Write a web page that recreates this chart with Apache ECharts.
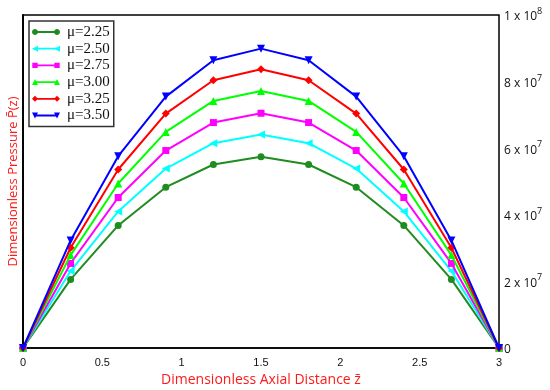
<!DOCTYPE html>
<html><head><meta charset="utf-8">
<script src="https://cdn.jsdelivr.net/npm/echarts@6/dist/echarts.min.js"></script>
<style>html,body{margin:0;padding:0;background:#fff}#c{width:550px;height:390px}</style>
</head><body><div id="c"></div>
<script>
const zValues = [0, 0.3, 0.6, 0.9, 1.2, 1.5, 1.8, 2.1, 2.4, 2.7, 3.0];
const seriesNames = ['μ=2.25','μ=2.50','μ=2.75','μ=3.00','μ=3.25','μ=3.50'];
const mu225 = [0, 2.06e7, 3.68e7, 4.83e7, 5.51e7, 5.74e7, 5.51e7, 4.83e7, 3.68e7, 2.06e7, 0];
const mu250 = [0, 2.31e7, 4.10e7, 5.39e7, 6.15e7, 6.41e7, 6.15e7, 5.39e7, 4.10e7, 2.31e7, 0];
const mu275 = [0, 2.54e7, 4.52e7, 5.93e7, 6.77e7, 7.05e7, 6.77e7, 5.93e7, 4.52e7, 2.54e7, 0];
const mu300 = [0, 2.79e7, 4.94e7, 6.49e7, 7.42e7, 7.72e7, 7.42e7, 6.49e7, 4.94e7, 2.79e7, 0];
const mu325 = [0, 3.01e7, 5.36e7, 7.04e7, 8.04e7, 8.37e7, 8.04e7, 7.04e7, 5.36e7, 3.01e7, 0];
const mu350 = [0, 3.23e7, 5.76e7, 7.55e7, 8.64e7, 8.99e7, 8.64e7, 7.55e7, 5.76e7, 3.23e7, 0];
const xTicks = [0, 0.5, 1, 1.5, 2, 2.5, 3];
const yTickLabels = {0:'0', 2e7:'2 x 10^7', 4e7:'4 x 10^7', 6e7:'6 x 10^7', 8e7:'8 x 10^7', 1e8:'1 x 10^8'};

const allData = [mu225, mu250, mu275, mu300, mu325, mu350];
const colors = ['#1e8c1e','#00ffff','#ff00ff','#00ff00','#ff0000','#0000ff'];
const symbols = ['circle','triangle','rect','triangle','diamond','triangle'];
const rotates = [0, 90, 0, 0, 0, 180];
const sizes = [7, 8, 7, 8, 8, 8];

// legend icons: line with marker at both ends, box 28x6
const line = 'M3,2.1L25,2.1L25,3.9L3,3.9Z';
function circ(cx){
  let s = '';
  for (let k = 0; k < 16; k++) {
    const a = k / 16 * Math.PI * 2;
    s += (k ? 'L' : 'M') + (cx + 3 * Math.cos(a)).toFixed(3) + ',' + (3 + 3 * Math.sin(a)).toFixed(3);
  }
  return s + 'Z';
}
function sq(cx){return 'M'+(cx-2.7)+',0.3L'+(cx+2.7)+',0.3L'+(cx+2.7)+',5.7L'+(cx-2.7)+',5.7Z';}
function triUp(cx){return 'M'+cx+',0L'+(cx+3)+',6L'+(cx-3)+',6Z';}
function triDown(cx){return 'M'+(cx-3)+',0L'+(cx+3)+',0L'+cx+',6Z';}
function triLeft(cx){return 'M'+(cx-3)+',3L'+(cx+3)+',0L'+(cx+3)+',6Z';}
function dia(cx){return 'M'+cx+',0L'+(cx+3)+',3L'+cx+',6L'+(cx-3)+',3Z';}
const frame = 'M0,0L0.01,0L0,0.01Z M28,6L27.99,6L28,5.99Z';
const iconFns = [circ, triLeft, sq, triUp, dia, triDown];
const icons = iconFns.map(f => 'path://' + line + ' ' + f(3) + ' ' + f(25) + ' ' + frame);

const chart = echarts.init(document.getElementById('c'), null, {renderer:'canvas'});
chart.setOption({
  animation: false,
  backgroundColor: '#fff',
  grid: {left: 23, right: 51, top: 15, bottom: 42, outerBoundsMode: 'none', containLabel: false,
         show: true, borderColor: '#000', borderWidth: 1.5, backgroundColor: 'transparent'},
  legend: {
    orient: 'vertical', left: 29, top: 21,
    data: seriesNames.map((n,i)=>({name:n, icon: icons[i]})),
    itemWidth: 28, itemHeight: 6, itemGap: 0.7,
    padding: [3, 4, 3, 3],
    borderColor: '#333', borderWidth: 1.5, backgroundColor: '#fff',
    textStyle: {fontFamily: 'Liberation Serif', fontSize: 15, color: '#111', lineHeight: 16, padding:[0,0,0,2]}
  },
  xAxis: {
    type: 'value', min: 0, max: 3, interval: 0.5,
    axisLine: {show: true, lineStyle: {color: '#000', width: 1.5}},
    axisTick: {show: false}, splitLine: {show: false},
    axisLabel: {fontFamily: 'Liberation Sans Narrow, Liberation Sans', fontSize: 11, color: '#111', margin: 9,
      formatter: v => xTicks.includes(v) ? String(v) : ''},
    name: 'Dimensionless Axial Distance z\u0304', nameLocation: 'middle', nameGap: 23,
    nameTextStyle: {color: '#ff1a1a', fontFamily: 'Open Sans', fontSize: 14}
  },
  yAxis: [{
    type: 'value', min: 0, max: 1e8, interval: 2e7, position: 'right',
    axisLine: {show: true, lineStyle: {color: '#000', width: 1.5}},
    axisTick: {show: false}, splitLine: {show: false},
    axisLabel: {margin: 5, color: '#111',
      formatter: v => { const s = yTickLabels[v]; if (s === undefined) return ''; if (s === '0') return '{b|0}';
        const p = s.split('^'); return '{b|' + p[0] + '}{s|' + p[1] + '}'; },
      rich: {b: {fontFamily: 'Open Sans', fontSize: 12, color: '#111', lineHeight: 16, verticalAlign: 'bottom'},
             s: {fontFamily: 'Open Sans', fontSize: 9, color: '#111', lineHeight: 16, verticalAlign: 'top', padding: [0,0,7,0]}}}
  }, {
    type: 'value', min: 0, max: 1e8, interval: 2e7, position: 'left',
    axisLine: {show: true, lineStyle: {color: '#000', width: 1.5}},
    axisTick: {show: false}, splitLine: {show: false}, axisLabel: {show: false},
    name: 'Dimensionless Pressure P\u0304(z)', nameLocation: 'middle', nameGap: 3,
    nameTextStyle: {color: '#ff1a1a', fontFamily: 'Open Sans', fontSize: 13}
  }],
  series: allData.map((d,i)=>({
    name: seriesNames[i], type: 'line', yAxisIndex: 0,
    data: d.map((v,j)=>[zValues[j], v]),
    symbol: symbols[i], symbolRotate: rotates[i], symbolSize: sizes[i],
    showAllSymbol: true,
    lineStyle: {color: colors[i], width: 2},
    itemStyle: {color: colors[i]},
    z: 2 + i
  }))
});
</script></body></html>
